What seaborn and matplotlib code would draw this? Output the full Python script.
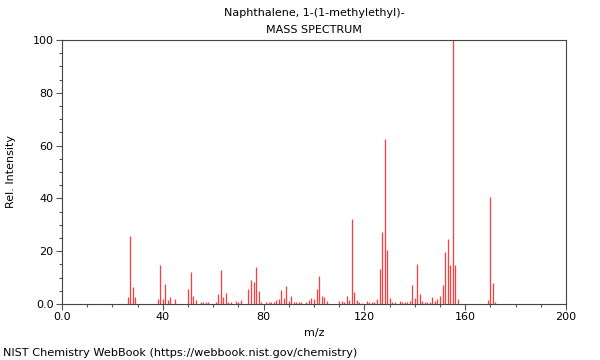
import matplotlib
matplotlib.use("Agg")
import matplotlib.pyplot as plt
from matplotlib.ticker import MultipleLocator, FixedFormatter, FixedLocator
import seaborn as sns
import pandas as pd

title_line1 = "Naphthalene, 1-(1-methylethyl)-"
title_line2 = "MASS SPECTRUM"
footer = "NIST Chemistry WebBook (https://webbook.nist.gov/chemistry)"

mz = [26, 27, 28, 29, 38, 39, 40, 41, 42, 43, 45,
      50, 51, 52, 53, 55, 56, 57, 58, 61, 62, 63, 64, 65, 66, 67, 69, 70, 71,
      74, 75, 76, 77, 78, 79, 81, 82, 83, 84, 85, 86, 87, 88, 89, 90, 91, 92,
      93, 94, 95, 97, 98, 99, 100, 101, 102, 103, 104, 105,
      110, 111, 112, 113, 114, 115, 116, 117, 118, 119, 121, 122, 123, 124,
      125, 126, 127, 128, 129, 130, 131, 132, 134, 135, 136, 137, 138, 139,
      140, 141, 142, 143, 144, 145, 146, 147, 148, 149, 150, 151, 152, 153,
      154, 155, 156, 157, 169, 170, 171, 172]
intensity = [2.5, 25.9, 6.6, 2.6, 1.9, 14.8, 1.9, 7.4, 1.7, 2.5, 1.9,
             5.8, 12.1, 3.0, 1.5, 0.7, 0.7, 0.7, 0.7, 0.7, 3.8, 12.9, 2.6, 4.0, 0.7, 0.7, 1.3, 0.8, 1.5,
             5.6, 9.1, 8.5, 14.0, 4.8, 0.8, 0.7, 0.7, 0.7, 0.7, 1.5, 2.0, 5.3, 2.3, 6.8, 1.3, 3.0, 0.7,
             0.7, 0.7, 0.7, 0.7, 1.5, 2.1, 1.8, 5.8, 10.6, 3.0, 2.5, 1.2,
             1.0, 1.3, 0.7, 3.0, 1.7, 32.2, 4.5, 1.5, 0.6, 0.5, 1.0, 0.8, 0.7, 0.7,
             2.0, 13.1, 27.2, 62.5, 20.6, 2.3, 0.7, 0.7, 1.0, 0.8, 0.6, 0.8, 1.0, 7.2,
             2.2, 15.3, 3.9, 1.3, 0.7, 0.7, 0.7, 2.6, 1.3, 2.0, 3.0, 7.1, 19.7, 24.5,
             14.8, 100.0, 14.8, 1.9, 1.7, 40.5, 8.0, 0.8]

x_ticks = [0, 40, 80, 120, 160, 200]
x_tick_labels = ["0.0", "40", "80", "120", "160", "200"]
y_ticks = [0, 20, 40, 60, 80, 100]
y_tick_labels = ["0.0", "20", "40", "60", "80", "100"]

df = pd.DataFrame({"mz": mz, "intensity": intensity})

sns.set_theme(style="ticks")
plt.rcParams["font.family"] = ["DejaVu Sans"]
plt.rcParams["text.color"] = "black"
plt.rcParams["axes.labelcolor"] = "black"
plt.rcParams["xtick.labelcolor"] = "black"
plt.rcParams["ytick.labelcolor"] = "black"

fig = plt.figure(figsize=(6, 3.6), dpi=100)
ax = fig.add_axes([62 / 600, 1 - 304 / 360, (566 - 62) / 600, (304 - 40) / 360])

ax.vlines(df["mz"], 0, df["intensity"], color="#ff3b3b", linewidth=0.9)

ax.set_xlim(0, 200)
ax.set_ylim(0, 100)
ax.xaxis.set_major_locator(FixedLocator(x_ticks))
ax.xaxis.set_major_formatter(FixedFormatter(x_tick_labels))
ax.yaxis.set_major_locator(FixedLocator(y_ticks))
ax.yaxis.set_major_formatter(FixedFormatter(y_tick_labels))
ax.xaxis.set_minor_locator(MultipleLocator(10))
ax.yaxis.set_minor_locator(MultipleLocator(5))
ax.tick_params(axis="both", which="major", direction="out", length=4, width=0.8,
               labelsize=8, color="#555555", labelcolor="black", pad=2)
ax.tick_params(axis="both", which="minor", direction="out", length=2.5, width=0.8,
               color="#555555")
for s in ax.spines.values():
    s.set_color("#444444")
    s.set_linewidth(0.8)

ax.set_xlabel("m/z", fontsize=8, labelpad=4, color="black")
ax.set_ylabel("Rel. Intensity", fontsize=8, labelpad=12, color="black")

fig.text(314 / 600, 1 - 13 / 360, title_line1, ha="center", va="center", fontsize=8, color="black")
fig.text(314 / 600, 1 - 30 / 360, title_line2, ha="center", va="center", fontsize=8, color="black")
fig.text(3 / 600, 1 - 353 / 360, footer, ha="left", va="center", fontsize=8.1, color="black")

fig.savefig("out.png", dpi=100)
